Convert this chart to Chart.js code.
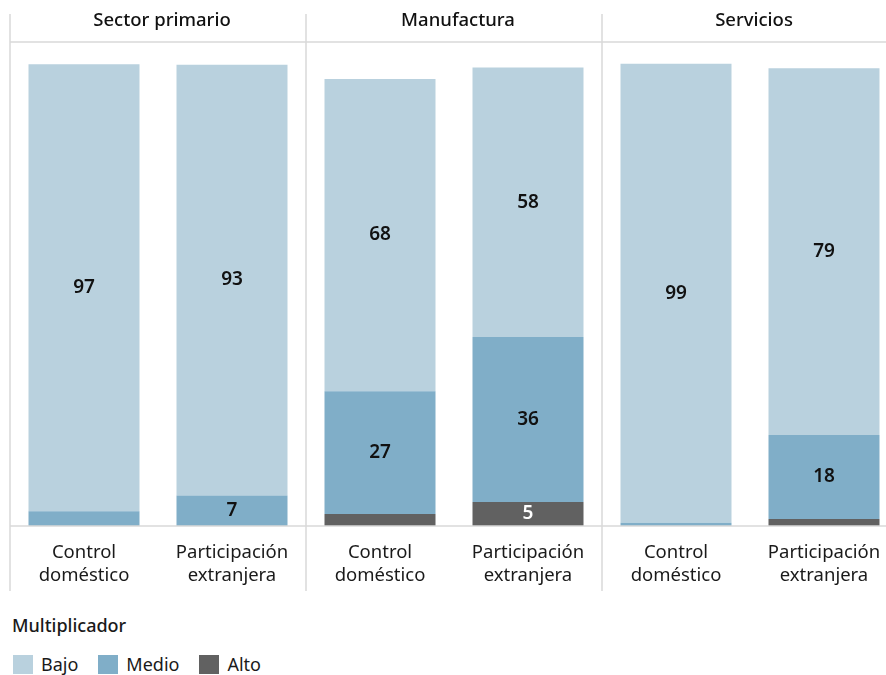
<!DOCTYPE html>
<html lang="es">
<head>
<meta charset="utf-8">
<script src="https://cdn.jsdelivr.net/npm/chart.js@4/dist/chart.umd.min.js"></script>
<style>
  html, body { margin: 0; padding: 0; background: #fff; overflow: hidden; }
  body { width: 886px; height: 675px; position: relative; font-family: "Noto Sans", sans-serif; color: #1a1a1a; }
  #wrap { position: absolute; left: 0; top: 0; width: 898px; height: 600px; }
  .legend-title { position: absolute; left: 12px; top: 613px; font-size: 18px; font-weight: 500; }
  .legend { position: absolute; left: 13px; top: 652px; display: flex; align-items: center; font-size: 18px; }
  .legend span.box { display: inline-block; width: 20px; height: 19px; margin-right: 8px; }
  .legend .item { display: flex; align-items: center; margin-right: 20px; }
</style>
</head>
<body>
<div id="wrap"><canvas id="chart" width="898" height="600"></canvas></div>
<div class="legend-title">Multiplicador</div>
<div class="legend" id="legend"></div>
<script>
// facets and categories
const sectors = ["Sector primario", "Manufactura", "Servicios"];
const groups = [["Control", "doméstico"], ["Participación", "extranjera"]];

// values in %, one per bar (sector x group)
const alto  = [0,    0,    2.6,  5.2,  0,    1.5];
const medio = [3.2,  6.6,  26.6, 35.7, 0.7,  18.2];
const bajo  = [96.8, 93.3, 67.6, 58.4, 99.4, 79.4];

const colors = { bajo: "#b9d1de", medio: "#80aec8", alto: "#616161" };
const lineColor = "#d9d9d9";

const labels = [];
sectors.forEach(() => groups.forEach(g => labels.push(g)));

const facetPlugin = {
    id: "facets",
    afterDraw(chart) {
        const ctx = chart.ctx;
        const area = chart.chartArea;
        const step = (area.right - area.left) / labels.length;
        ctx.save();
        ctx.strokeStyle = lineColor;
        ctx.lineWidth = 1.5;
        // vertical separators between facets
        for (let i = 0; i <= sectors.length; i++) {
            const px = area.left + i * step * groups.length;
            ctx.beginPath();
            ctx.moveTo(px, 14);
            ctx.lineTo(px, 591);
            ctx.stroke();
        }
        // header line and baseline
        [42, area.bottom].forEach(py => {
            ctx.beginPath();
            ctx.moveTo(area.left, py);
            ctx.lineTo(area.right, py);
            ctx.stroke();
        });
        // facet titles
        ctx.fillStyle = "#111";
        ctx.font = "500 18.5px 'Noto Sans'";
        ctx.textAlign = "center";
        ctx.textBaseline = "middle";
        sectors.forEach((s, i) => {
            const cx = area.left + (i + 0.5) * step * groups.length + 4;
            ctx.fillText(s, cx, 21);
        });
        ctx.restore();
    }
};

const valueLabels = {
    id: "valueLabels",
    afterDatasetsDraw(chart) {
        const ctx = chart.ctx;
        ctx.save();
        ctx.font = "600 19px 'Noto Sans'";
        ctx.textAlign = "center";
        ctx.textBaseline = "middle";
        chart.data.datasets.forEach((ds, di) => {
            const meta = chart.getDatasetMeta(di);
            meta.data.forEach((bar, i) => {
                const v = ds.data[i];
                if (v < 5) return;
                ctx.fillStyle = ds.label === "Alto" ? "#fff" : "#111";
                ctx.fillText(Math.round(v), bar.x, (bar.y + bar.base) / 2);
            });
        });
        ctx.restore();
    }
};

const datasets = [
    { label: "Alto", data: alto, backgroundColor: colors.alto },
    { label: "Medio", data: medio, backgroundColor: colors.medio },
    { label: "Bajo", data: bajo, backgroundColor: colors.bajo }
];

new Chart(document.getElementById("chart"), {
    type: "bar",
    data: { labels: labels, datasets: datasets },
    options: {
        responsive: false,
        animation: false,
        events: [],
        devicePixelRatio: 1,
        layout: { padding: { top: 42, left: 10, right: 0, bottom: 0 } },
        datasets: { bar: { barPercentage: 0.75, categoryPercentage: 1, borderWidth: 0 } },
        scales: {
            x: {
                stacked: true,
                grid: { display: false },
                border: { display: false },
                ticks: {
                    color: "#1a1a1a",
                    font: { family: "'Noto Sans'", size: 18.5, lineHeight: 1.24 },
                    padding: 7,
                    maxRotation: 0,
                    autoSkip: false
                },
                afterFit(scale) { scale.height = 74; }
            },
            y: { stacked: true, display: false, min: 0, max: 104.8 }
        },
        plugins: { legend: { display: false }, tooltip: { enabled: false } }
    },
    plugins: [facetPlugin, valueLabels]
});

// legend in original order
const legendEl = document.getElementById("legend");
[["Bajo", colors.bajo], ["Medio", colors.medio], ["Alto", colors.alto]].forEach(([name, c]) => {
    const item = document.createElement("div");
    item.className = "item";
    item.innerHTML = '<span class="box" style="background:' + c + '"></span>' + name;
    legendEl.appendChild(item);
});
</script>
</body>
</html>
